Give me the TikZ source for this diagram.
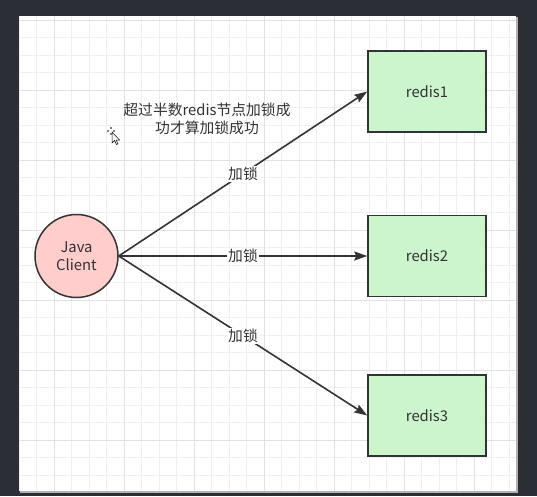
\documentclass[tikz,border=0pt]{standalone}
\usepackage{fontspec}
\setmainfont{Noto Sans CJK SC}
\usetikzlibrary{arrows.meta}
\definecolor{bgdark}{HTML}{2C2E35}
\definecolor{gridminor}{HTML}{EFEFEF}
\definecolor{gridmajor}{HTML}{E1E1E1}
\definecolor{ink}{HTML}{333333}
\definecolor{pinkfill}{HTML}{FFCDCC}
\definecolor{greenfill}{HTML}{CDF5CD}
\tikzset{
  base/.style={font=\fontsize{14.8}{17.5}\selectfont, text=ink},
  client/.style={base, circle, draw=ink, line width=1.5pt, fill=pinkfill, minimum size=83pt, inner sep=0pt, align=center},
  redisbox/.style={base, rectangle, draw=ink, line width=1.5pt, fill=greenfill, minimum width=118pt, minimum height=81pt},
  conn/.style={draw=ink, line width=1.6pt, -{Stealth[length=13pt,width=9pt,inset=2pt]}},
  lbl/.style={base, fill=white, inner sep=1pt},
}
\begin{document}
\begin{tikzpicture}[x=1pt,y=-1pt]
\useasboundingbox (0,0) rectangle (537,496);
\fill[bgdark] (0,0) rectangle (537,496);
\fill[gray!60] (20,17) rectangle (518,493);
\fill[white] (19,16) rectangle (516,491);
\begin{scope}
\clip (19,16) rectangle (516,491);
\foreach \i in {0,...,29} {
  \draw[gridminor, line width=0.8pt] ({19+17.5*\i},16) -- ({19+17.5*\i},491);
  \draw[gridminor, line width=0.8pt] (19,{20+17.5*\i}) -- (516,{20+17.5*\i});
}
\foreach \i in {0,...,7} {
  \draw[gridmajor, line width=0.9pt] ({54+70*\i},16) -- ({54+70*\i},491);
  \draw[gridmajor, line width=0.9pt] (19,{20+70*\i}) -- (516,{20+70*\i});
}
\end{scope}

\node[client] (jc) at (76.5,256) {Java\\Client};
\node[redisbox] (r1) at (427,91.5) {redis1};
\node[redisbox] (r2) at (427,256) {redis2};
\node[redisbox] (r3) at (427,415.5) {redis3};

\draw[conn] (jc.east) -- node[lbl] {加锁} (r1.west);
\draw[conn] (jc.east) -- node[lbl] {加锁} (r2.west);
\draw[conn] (jc.east) -- node[lbl] {加锁} (r3.west);

\node[base, align=center] (note) at (207,119) {超过半数redis节点加锁成\\功才算加锁成功};

% mouse cursor
\begin{scope}[shift={(111,131)}]
\fill[black] (0,-3) circle (0.9pt) (0,3) circle (0.9pt) (-3,0) circle (0.9pt) (3,0) circle (0.9pt);
\draw[black, fill=white, line width=0.5pt] (1,1) -- (1,12) -- (3.5,9.5) -- (5.5,13.5) -- (7,12.8) -- (5,9) -- (8.5,9) -- cycle;
\end{scope}
\end{tikzpicture}
\end{document}
